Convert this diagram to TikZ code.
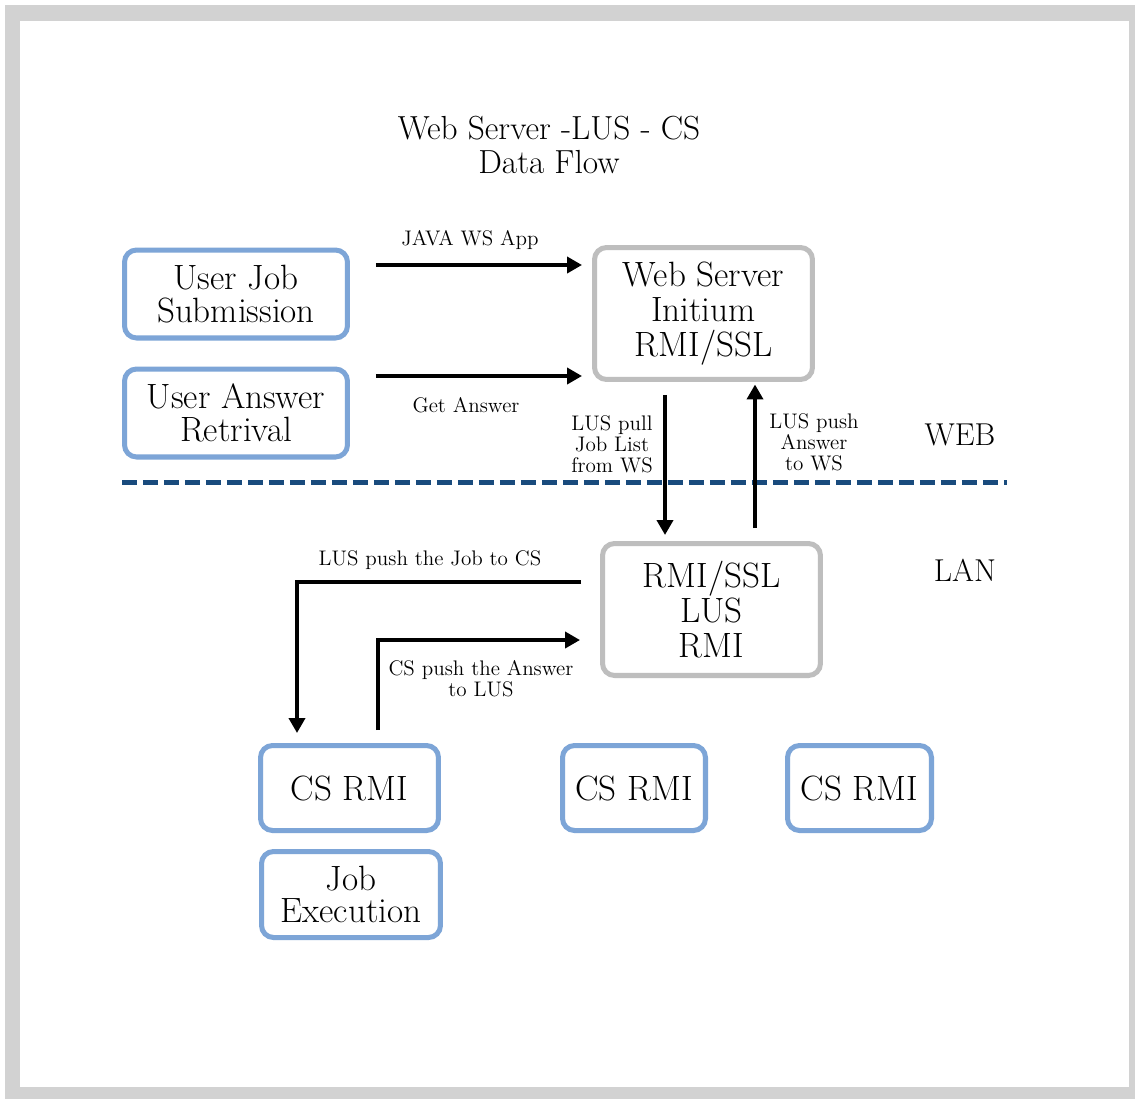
\documentclass[tikz,border=0pt]{standalone}
\usepackage{tikz}
\usetikzlibrary{arrows.meta}
\definecolor{boxblue}{RGB}{125,165,215}
\definecolor{boxgray}{RGB}{190,190,190}
\definecolor{framegray}{RGB}{210,210,210}
\definecolor{lineblue}{RGB}{25,75,125}
\tikzset{
  userbox/.style={draw=boxblue, line width=2.85pt, rounded corners=0.24cm, align=center, inner sep=0pt, font=\fontsize{20}{18.5}\selectfont},
  serverbox/.style={draw=boxgray, line width=2.85pt, rounded corners=0.24cm, align=center, inner sep=0pt, font=\fontsize{20}{20}\selectfont},
  flow/.style={line width=2.3pt, -{Triangle[length=0.3cm,width=0.32cm]}},
  flowlabel/.style={align=center, inner sep=0pt, font=\fontsize{12}{12}\selectfont},
  zone/.style={inner sep=0pt, font=\fontsize{18}{20}\selectfont}
}
\begin{document}
\begin{tikzpicture}[x=0.02cm, y=-0.02cm]
	% 画布范围与灰色边框
	\useasboundingbox (0,0) rectangle (1135,1099);
	\fill[white] (0,0) rectangle (1135,1099);
	\fill[framegray] (5,5) rectangle (1135,1099);
	\fill[white] (20,21) rectangle (1129,1087);

	% 标题
	\node[align=center, inner sep=0pt, font=\fontsize{19}{19.3}\selectfont] (title) at (549,145) {Web Server -LUS - CS\\Data Flow};

	% 用户端的两个框
	\node[userbox, minimum width=4.46cm, minimum height=1.76cm] (ujs) at (236,294) {User Job\\Submission};
	\node[userbox, minimum width=4.46cm, minimum height=1.76cm] (uar) at (236,413) {User Answer\\Retrival};

	% Web Server 与 LUS
	\node[serverbox, minimum width=4.36cm, minimum height=2.64cm] (ws) at (703.5,313.5) {Web Server\\Initium\\RMI/SSL};
	\node[serverbox, minimum width=4.36cm, minimum height=2.64cm] (lus) at (711.5,609.5) {RMI/SSL\\LUS\\RMI};

	% 三个 CS 节点与作业执行
	\node[userbox, minimum width=3.56cm, minimum height=1.7cm] (cs1) at (349.5,788) {CS RMI};
	\node[userbox, minimum width=2.86cm, minimum height=1.7cm] (cs2) at (634,788) {CS RMI};
	\node[userbox, minimum width=2.88cm, minimum height=1.7cm] (cs3) at (859.5,788) {CS RMI};
	\node[userbox, minimum width=3.58cm, minimum height=1.72cm] (job) at (351,894.5) {Job\\Execution};

	% WEB 与 LAN 的分界虚线
	\draw[lineblue, line width=0.1cm, dash pattern=on 0.3cm off 0.12cm] (122,482) -- (1007,482);
	\node[zone] (web) at (960,435) {WEB};
	\node[zone] (lan) at (965,570) {LAN};

	% 用户到 Web Server 的两条箭头
	\draw[flow, shorten <=0.52cm, shorten >=0.2cm] (ujs.east |- 0,265) -- (ws.west |- 0,265);
	\draw[flow, shorten <=0.52cm, shorten >=0.2cm] (uar.east |- 0,376) -- (ws.west |- 0,376);
	\node[flowlabel] (javaapp) at (470,240) {JAVA WS App};
	\node[flowlabel] (getans) at (466,405) {Get Answer};

	% Web Server 与 LUS 之间的上下箭头
	\draw[flow, shorten <=0.26cm, shorten >=0.12cm] (ws.south -| 665,0) -- (lus.north -| 665,0);
	\draw[flow, shorten <=0.26cm, shorten >=0.05cm] (lus.north -| 755,0) -- (ws.south -| 755,0);
	\node[flowlabel] (pull) at (612,444) {LUS pull\\Job List\\from WS};
	\node[flowlabel] (pushws) at (814,442) {LUS push\\Answer\\to WS};

	% LUS 与 CS 之间的折线箭头
	\draw[flow, shorten <=0.38cm, shorten >=0.2cm] (lus.west |- 0,582) -| (cs1.north -| 297,0);
	\draw[flow, shorten <=0.26cm, shorten >=0.4cm] (cs1.north -| 378,0) |- (lus.west |- 0,640);
	\node[flowlabel] (pushcs) at (430,560) {LUS push the Job to CS};
	\node[flowlabel] (pushlus) at (481,679) {CS push the Answer\\to LUS};
\end{tikzpicture}
\end{document}
